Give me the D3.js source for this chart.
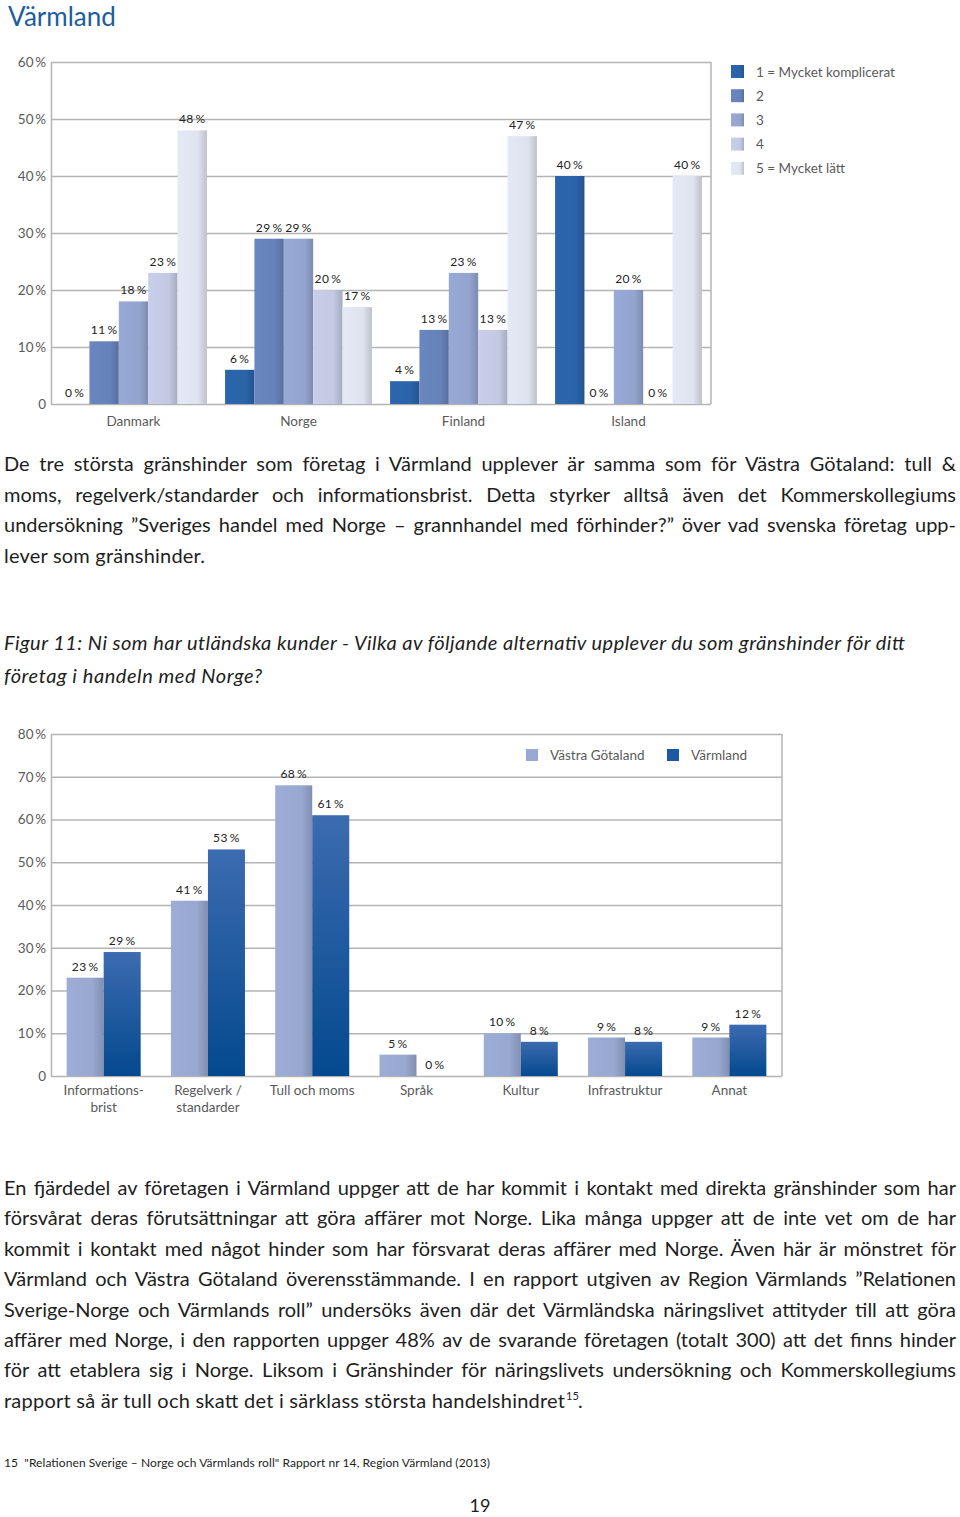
<!DOCTYPE html>
<html>
<head>
<meta charset="utf-8">
<script src="https://cdn.jsdelivr.net/npm/d3@7"></script>
<style>
  body { margin: 0; background: #fff; }
  svg { display: block; font-family: Lato, "Open Sans", sans-serif; }
</style>
</head>
<body>
<div id="page"></div>
<script>
// ---- chart 1: Värmland, per land ----
var countries = ["Danmark", "Norge", "Finland", "Island"];
var levels = ["1 = Mycket komplicerat", "2", "3", "4", "5 = Mycket lätt"];
var danmark = [0, 11, 18, 23, 48];
var norge = [6, 29, 29, 20, 17];
var finland = [4, 13, 23, 13, 47];
var island = [40, 0, 20, 0, 40];
var topTicks = [0, 10, 20, 30, 40, 50, 60];

// ---- chart 2: Figur 11 ----
var categories = [["Informations-", "brist"], ["Regelverk /", "standarder"], ["Tull och moms"], ["Språk"], ["Kultur"], ["Infrastruktur"], ["Annat"]];
var regions = ["Västra Götaland", "Värmland"];
var vastraGotaland = [23, 41, 68, 5, 10, 9, 9];
var varmland = [29, 53, 61, 0, 8, 8, 12];
var bottomTicks = [0, 10, 20, 30, 40, 50, 60, 70, 80];

// ---- text ----
var para1 = [
  "De tre största gränshinder som företag i Värmland upplever är samma som för Västra Götaland: tull &",
  "moms, regelverk/standarder och informationsbrist. Detta styrker alltså även det Kommerskollegiums",
  "undersökning ”Sveriges handel med Norge – grannhandel med förhinder?” över vad svenska företag upp-",
  "lever som gränshinder."
];
var caption = [
  "Figur 11: Ni som har utländska kunder - Vilka av följande alternativ upplever du som gränshinder för ditt",
  "företag i handeln med Norge?"
];
var para2 = [
  "En fjärdedel av företagen i Värmland uppger att de har kommit i kontakt med direkta gränshinder som har",
  "försvårat deras förutsättningar att göra affärer mot Norge. Lika många uppger att de inte vet om de har",
  "kommit i kontakt med något hinder som har försvarat deras affärer med Norge. Även här är mönstret för",
  "Värmland och Västra Götaland överensstämmande. I en rapport utgiven av Region Värmlands ”Relationen",
  "Sverige-Norge och Värmlands roll” undersöks även där det Värmländska näringslivet attityder till att göra",
  "affärer med Norge, i den rapporten uppger 48% av de svarande företagen (totalt 300) att det finns hinder",
  "för att etablera sig i Norge. Liksom i Gränshinder för näringslivets undersökning och Kommerskollegiums",
  "rapport så är tull och skatt det i särklass största handelshindret"
];
var footnote = "15  \"Relationen Sverige – Norge och Värmlands roll\" Rapport nr 14, Region Värmland (2013)";

var levelColors = ["#2a63a8", "#6682ba", "#93a4cf", "#c3c9e3", "#dfe2ef"];
var regionColors = ["#98a8d0", "#1f5aa0"];
var gridColor = "#b4b4b4";
var tickColor = "#5a5a5a";

var svg = d3.select("#page").append("svg")
    .attr("width", 960)
    .attr("height", 1517);

var defs = svg.append("defs");
function hGrad(id, c) {
  var g = defs.append("linearGradient").attr("id", id)
      .attr("x1", 0).attr("x2", 1).attr("y1", 0).attr("y2", 0);
  g.append("stop").attr("offset", "0%").attr("stop-color", d3.color(c).brighter(0.08));
  g.append("stop").attr("offset", "70%").attr("stop-color", c);
  g.append("stop").attr("offset", "100%").attr("stop-color", d3.color(c).darker(0.45));
}
levelColors.forEach(function(c, i) { hGrad("lev" + i, c); });
hGrad("reg0", regionColors[0]);
var vg = defs.append("linearGradient").attr("id", "reg1")
    .attr("x1", 0).attr("x2", 0).attr("y1", 0).attr("y2", 1);
vg.append("stop").attr("offset", "0%").attr("stop-color", "#3c6bb0");
vg.append("stop").attr("offset", "100%").attr("stop-color", "#04498e");

// title
svg.append("text")
    .attr("x", 8).attr("y", 26)
    .style("font-size", "26px")
    .style("fill", "#1d5c9e")
    .text("Värmland");

// ===== chart 1 =====
var x0 = d3.scaleBand().domain(countries).range([51, 711]).paddingInner(0.11).paddingOuter(0.055);
var x1 = d3.scaleBand().domain(d3.range(5)).range([0, x0.bandwidth()]);
var y = d3.scaleLinear().domain([0, 60]).range([404, 62]);
var topData = [danmark, norge, finland, island];

var c1 = svg.append("g");
var yAxis1 = c1.append("g")
    .attr("transform", "translate(51,0)")
    .call(d3.axisLeft(y).tickValues(topTicks).tickSize(-660).tickSizeOuter(0).tickPadding(5)
      .tickFormat(function(d) { return d === 0 ? "0" : d + "\u2009%"; }));
styleAxis(yAxis1);
c1.append("line").attr("x1", 711).attr("x2", 711).attr("y1", y(60)).attr("y2", y(0))
    .attr("stroke", gridColor).attr("stroke-width", 1.5);

var groups = c1.selectAll(".grp").data(topData).enter().append("g")
    .attr("transform", function(d, i) { return "translate(" + x0(countries[i]) + ",0)"; });
groups.selectAll("rect").data(function(d) { return d; }).enter().append("rect")
    .attr("x", function(d, i) { return x1(i); })
    .attr("width", x1.bandwidth())
    .attr("y", function(d) { return y(d); })
    .attr("height", function(d) { return y(0) - y(d); })
    .attr("fill", function(d, i) { return "url(#lev" + i + ")"; });
groups.selectAll("text").data(function(d) { return d; }).enter().append("text")
    .attr("x", function(d, i) { return x1(i) + x1.bandwidth() / 2; })
    .attr("y", function(d) { return y(d) - 7; })
    .attr("text-anchor", "middle")
    .style("font-size", "12px")
    .style("fill", "#222")
    .style("letter-spacing", "0.4px")
    .text(function(d) { return d + "\u2009%"; });

c1.selectAll(".cat").data(countries).enter().append("text")
    .attr("x", function(d) { return x0(d) + x0.bandwidth() / 2; })
    .attr("y", 426)
    .attr("text-anchor", "middle")
    .style("font-size", "13.5px")
    .style("fill", tickColor)
    .text(function(d) { return d; });

var leg1 = c1.selectAll(".leg").data(levels).enter().append("g")
    .attr("transform", function(d, i) { return "translate(731," + (65 + i * 24.2) + ")"; });
leg1.append("rect").attr("width", 13).attr("height", 13)
    .attr("fill", function(d, i) { return "url(#lev" + i + ")"; });
leg1.append("text").attr("x", 25).attr("y", 11.5)
    .style("font-size", "13.5px").style("fill", tickColor)
    .text(function(d) { return d; });

// ===== chart 2 =====
var bx0 = d3.scaleBand().domain(d3.range(categories.length)).range([51, 782]).paddingInner(0.29).paddingOuter(0.15);
var bx1 = d3.scaleBand().domain(d3.range(2)).range([0, bx0.bandwidth()]);
var by = d3.scaleLinear().domain([0, 80]).range([1076, 734]);
var bottomData = categories.map(function(c, i) { return [vastraGotaland[i], varmland[i]]; });

var c2 = svg.append("g");
var yAxis2 = c2.append("g")
    .attr("transform", "translate(51,0)")
    .call(d3.axisLeft(by).tickValues(bottomTicks).tickSize(-731).tickSizeOuter(0).tickPadding(5)
      .tickFormat(function(d) { return d === 0 ? "0" : d + "\u2009%"; }));
styleAxis(yAxis2);
c2.append("line").attr("x1", 782).attr("x2", 782).attr("y1", by(80)).attr("y2", by(0))
    .attr("stroke", gridColor).attr("stroke-width", 1.5);

var bgroups = c2.selectAll(".grp").data(bottomData).enter().append("g")
    .attr("transform", function(d, i) { return "translate(" + bx0(i) + ",0)"; });
bgroups.selectAll("rect").data(function(d) { return d; }).enter().append("rect")
    .attr("x", function(d, i) { return bx1(i); })
    .attr("width", bx1.bandwidth())
    .attr("y", function(d) { return by(d); })
    .attr("height", function(d) { return by(0) - by(d); })
    .attr("fill", function(d, i) { return "url(#reg" + i + ")"; });
bgroups.selectAll("text").data(function(d) { return d; }).enter().append("text")
    .attr("x", function(d, i) { return bx1(i) + bx1.bandwidth() / 2; })
    .attr("y", function(d) { return by(d) - 7; })
    .attr("text-anchor", "middle")
    .style("font-size", "12px")
    .style("fill", "#222")
    .style("letter-spacing", "0.4px")
    .text(function(d) { return d + "\u2009%"; });

var bcat = c2.selectAll(".cat").data(categories).enter().append("text")
    .attr("x", function(d, i) { return bx0(i) + bx0.bandwidth() / 2; })
    .attr("y", 1095)
    .attr("text-anchor", "middle")
    .style("font-size", "13.5px")
    .style("fill", tickColor);
bcat.selectAll("tspan").data(function(d) { return d; }).enter().append("tspan")
    .attr("x", function() { return d3.select(this.parentNode).attr("x"); })
    .attr("dy", function(d, i) { return i === 0 ? 0 : 17; })
    .text(function(d) { return d; });

var legX = [526, 667];
var leg2 = c2.selectAll(".leg").data(regions).enter().append("g")
    .attr("transform", function(d, i) { return "translate(" + legX[i] + ",749)"; });
leg2.append("rect").attr("width", 12).attr("height", 12)
    .attr("fill", function(d, i) { return i === 0 ? regionColors[0] : "#1d59a0"; });
leg2.append("text").attr("x", 24).attr("y", 11)
    .style("font-size", "13.5px").style("fill", tickColor)
    .text(function(d) { return d; });

function styleAxis(g) {
  g.select(".domain").attr("stroke", gridColor).attr("stroke-width", 1.5);
  g.selectAll(".tick line").attr("stroke", gridColor).attr("stroke-width", 1.5);
  g.selectAll(".tick text").style("font-size", "13.5px").style("fill", tickColor)
      .style("font-family", "Lato, sans-serif");
  g.lower();
}

// ===== body text =====
// widths: full justified lines span 952px; other lines get their own width
function block(lines, top, step, opts) {
  lines.forEach(function(line, i) {
    var t = svg.append("text")
        .attr("x", 4).attr("y", top + i * step)
        .style("font-size", opts.size + "px")
        .style("fill", "#1e1e1e")
        .style("font-style", opts.italic ? "italic" : "normal")
        .text(line);
    var w = t.node().getComputedTextLength();
    var target = opts.widths ? opts.widths[i] : 952;
    if (opts.justify && i < lines.length - 1) {
      var spaces = line.split(" ").length - 1;
      if (w < target) t.style("word-spacing", ((target - w) / spaces) + "px");
      else t.attr("textLength", target).attr("lengthAdjust", "spacing");
    } else if (opts.last) {
      t.attr("textLength", opts.last).attr("lengthAdjust", "spacing");
    } else if (opts.widths) {
      t.attr("textLength", target).attr("lengthAdjust", "spacing");
    }
  });
}
block(para1, 471, 30.5, { size: 20, justify: true, last: 201 });
block(caption, 650, 33, { size: 20, italic: true, widths: [901, 258] });
block(para2, 1195, 30.4, { size: 20, justify: true, last: 561 });

// footnote reference after last line of para2
var lx = 4 + 561;
svg.append("text").attr("x", lx + 1).attr("y", 1195 + 7 * 30.4 - 8)
    .style("font-size", "11px").style("fill", "#1e1e1e").text("15");
svg.append("text").attr("x", lx + 13).attr("y", 1195 + 7 * 30.4)
    .style("font-size", "20px").style("fill", "#1e1e1e").text(".");

svg.append("text").attr("x", 4).attr("y", 1467)
    .style("font-size", "12px").style("fill", "#1e1e1e")
    .attr("xml:space", "preserve").style("white-space", "pre")
    .attr("textLength", 486).attr("lengthAdjust", "spacing")
    .text(footnote);

svg.append("text").attr("x", 480).attr("y", 1512)
    .attr("text-anchor", "middle")
    .style("font-size", "18px").style("fill", "#1e1e1e")
    .text("19");
</script>
</body>
</html>
